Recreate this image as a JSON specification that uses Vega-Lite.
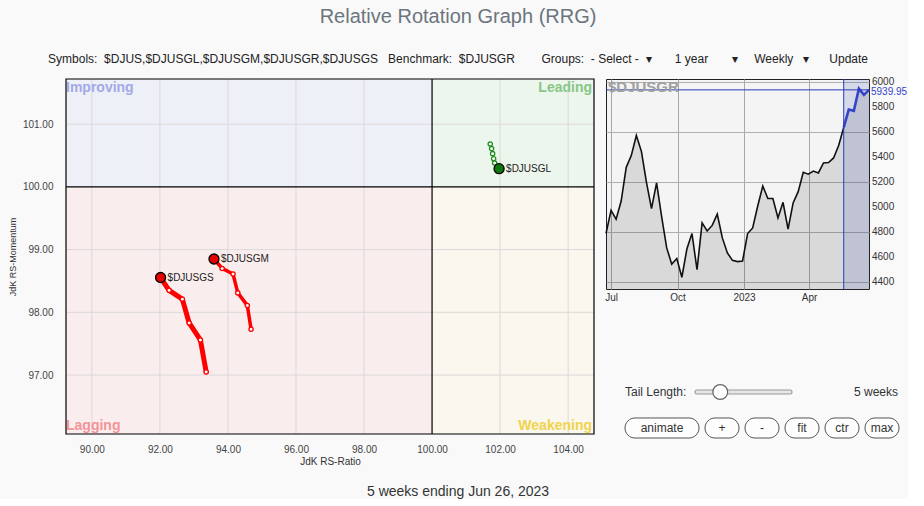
{
  "$schema": "https://vega.github.io/schema/vega-lite/v6.json",
  "background": "#f9f9fa",
  "padding": {"left": 8, "top": 6, "right": 0, "bottom": 0},
  "config": {
    "font": "Liberation Sans",
    "view": {"stroke": null},
    "axis": {"labelFont": "Liberation Sans", "titleFont": "Liberation Sans", "labelOverlap": false}
  },
  "title": {
    "text": "Relative Rotation Graph (RRG)",
    "subtitle": "Symbols: \u00a0$DJUS,$DJUSGL,$DJUSGM,$DJUSGR,$DJUSGS\u00a0\u00a0\u00a0Benchmark: \u00a0$DJUSGR\u00a0\u00a0\u00a0\u00a0\u00a0\u00a0\u00a0\u00a0Groups: \u00a0- Select - \u00a0\u25be\u00a0\u00a0\u00a0\u00a0\u00a0\u00a0\u00a01 year\u00a0\u00a0\u00a0\u00a0\u00a0\u00a0\u00a0\u25be\u00a0\u00a0\u00a0\u00a0\u00a0Weekly\u00a0\u00a0\u00a0\u25be\u00a0\u00a0\u00a0\u00a0\u00a0\u00a0Update",
    "anchor": "middle",
    "font": "Liberation Sans",
    "fontSize": 20,
    "fontWeight": "normal",
    "color": "#6c757d",
    "subtitleFont": "Liberation Sans",
    "subtitleFontSize": 12,
    "subtitleColor": "#222",
    "subtitlePadding": 27,
    "offset": 12
  },
  "datasets": {
    "quadrants": [
      {"quadrant": "Improving", "x1": 89.24, "x2": 100, "y1": 100, "y2": 101.72},
      {"quadrant": "Leading", "x1": 100, "x2": 104.76, "y1": 100, "y2": 101.72},
      {"quadrant": "Lagging", "x1": 89.24, "x2": 100, "y1": 96.06, "y2": 100},
      {"quadrant": "Weakening", "x1": 100, "x2": 104.76, "y1": 96.06, "y2": 100}
    ],
    "tails": [
      {"symbol": "$DJUSGS", "week": 0, "ratio": 93.36, "momentum": 97.05},
      {"symbol": "$DJUSGS", "week": 1, "ratio": 93.19, "momentum": 97.56},
      {"symbol": "$DJUSGS", "week": 2, "ratio": 92.86, "momentum": 97.83},
      {"symbol": "$DJUSGS", "week": 3, "ratio": 92.66, "momentum": 98.21},
      {"symbol": "$DJUSGS", "week": 4, "ratio": 92.27, "momentum": 98.35},
      {"symbol": "$DJUSGS", "week": 5, "ratio": 92.02, "momentum": 98.555},
      {"symbol": "$DJUSGM", "week": 0, "ratio": 94.68, "momentum": 97.73},
      {"symbol": "$DJUSGM", "week": 1, "ratio": 94.57, "momentum": 98.11},
      {"symbol": "$DJUSGM", "week": 2, "ratio": 94.29, "momentum": 98.31},
      {"symbol": "$DJUSGM", "week": 3, "ratio": 94.15, "momentum": 98.61},
      {"symbol": "$DJUSGM", "week": 4, "ratio": 93.83, "momentum": 98.70},
      {"symbol": "$DJUSGM", "week": 5, "ratio": 93.59, "momentum": 98.85},
      {"symbol": "$DJUSGL", "week": 0, "ratio": 101.71, "momentum": 100.685},
      {"symbol": "$DJUSGL", "week": 1, "ratio": 101.75, "momentum": 100.61},
      {"symbol": "$DJUSGL", "week": 2, "ratio": 101.78, "momentum": 100.53},
      {"symbol": "$DJUSGL", "week": 3, "ratio": 101.81, "momentum": 100.45},
      {"symbol": "$DJUSGL", "week": 4, "ratio": 101.84, "momentum": 100.38},
      {"symbol": "$DJUSGL", "week": 5, "ratio": 101.97, "momentum": 100.29}
    ],
    "price": [
      {"date": "2022-06-24", "close": 4790},
      {"date": "2022-07-01", "close": 4975},
      {"date": "2022-07-08", "close": 4905},
      {"date": "2022-07-15", "close": 5050},
      {"date": "2022-07-22", "close": 5320},
      {"date": "2022-07-29", "close": 5414},
      {"date": "2022-08-05", "close": 5575},
      {"date": "2022-08-12", "close": 5448},
      {"date": "2022-08-19", "close": 5200},
      {"date": "2022-08-26", "close": 4990},
      {"date": "2022-09-02", "close": 5195},
      {"date": "2022-09-09", "close": 4925},
      {"date": "2022-09-16", "close": 4675},
      {"date": "2022-09-23", "close": 4545},
      {"date": "2022-09-30", "close": 4590},
      {"date": "2022-10-07", "close": 4440},
      {"date": "2022-10-14", "close": 4668},
      {"date": "2022-10-21", "close": 4790},
      {"date": "2022-10-28", "close": 4500},
      {"date": "2022-11-04", "close": 4875},
      {"date": "2022-11-11", "close": 4810},
      {"date": "2022-11-18", "close": 4855},
      {"date": "2022-11-25", "close": 4945},
      {"date": "2022-12-02", "close": 4755},
      {"date": "2022-12-09", "close": 4635},
      {"date": "2022-12-16", "close": 4575},
      {"date": "2022-12-23", "close": 4565},
      {"date": "2022-12-30", "close": 4570},
      {"date": "2023-01-06", "close": 4790},
      {"date": "2023-01-13", "close": 4835},
      {"date": "2023-01-20", "close": 5010},
      {"date": "2023-01-27", "close": 5170},
      {"date": "2023-02-03", "close": 5070},
      {"date": "2023-02-10", "close": 5070},
      {"date": "2023-02-17", "close": 4915},
      {"date": "2023-02-24", "close": 5040},
      {"date": "2023-03-03", "close": 4825},
      {"date": "2023-03-10", "close": 5035},
      {"date": "2023-03-17", "close": 5125},
      {"date": "2023-03-24", "close": 5280},
      {"date": "2023-03-31", "close": 5265},
      {"date": "2023-04-07", "close": 5290},
      {"date": "2023-04-14", "close": 5275},
      {"date": "2023-04-21", "close": 5355},
      {"date": "2023-04-28", "close": 5358},
      {"date": "2023-05-05", "close": 5395},
      {"date": "2023-05-12", "close": 5495},
      {"date": "2023-05-19", "close": 5640},
      {"date": "2023-05-26", "close": 5782},
      {"date": "2023-06-02", "close": 5772},
      {"date": "2023-06-09", "close": 5950},
      {"date": "2023-06-16", "close": 5900},
      {"date": "2023-06-23", "close": 5939.95}
    ],
    "priceTicks": [
      {"v": 4400}, {"v": 4600}, {"v": 4800}, {"v": 5000}, {"v": 5200}, {"v": 5400}, {"v": 5600}, {"v": 5800}, {"v": 6000}
    ],
    "buttons": [
      {"label": "animate", "last": "animate "},
      {"label": "+", "last": "+"},
      {"label": "-", "last": "-"},
      {"label": "fit", "last": "fit"},
      {"label": "ctr", "last": "ctr"},
      {"label": "max", "last": "max"}
    ]
  },
  "vconcat": [
    {
      "spacing": 7,
      "title": {"text": "5 weeks ending Jun 26, 2023", "orient": "bottom", "anchor": "middle", "fontSize": 14, "fontWeight": "normal", "color": "#333", "offset": 19, "font": "Liberation Sans"},
      "hconcat": [
        {
          "width": 528,
          "height": 355,
          "layer": [
            {
              "data": {"name": "quadrants"},
              "mark": {"type": "rect"},
              "encoding": {
                "x": {"field": "x1", "type": "quantitative",
                  "scale": {"domain": [89.24, 104.76], "nice": false, "zero": false},
                  "axis": {"values": [90, 92, 94, 96, 98, 100, 102, 104], "format": ".2f", "title": "JdK RS-Ratio", "grid": false, "ticks": false, "domain": false, "labelFlush": false, "labelPadding": 10, "labelFontSize": 10, "labelColor": "#444", "titleFontSize": 10, "titleFontWeight": "normal", "titleColor": "#333", "titlePadding": 2}},
                "x2": {"field": "x2"},
                "y": {"field": "y1", "type": "quantitative",
                  "scale": {"domain": [96.06, 101.72], "nice": false, "zero": false},
                  "axis": {"values": [97, 98, 99, 100, 101], "format": ".2f", "title": "JdK RS-Momentum", "grid": false, "ticks": false, "domain": false, "labelFlush": false, "labelPadding": 13, "labelFontSize": 10, "labelColor": "#444", "titleFontSize": 9, "titleFontWeight": "normal", "titleColor": "#333", "titlePadding": 5}},
                "y2": {"field": "y2"},
                "color": {"field": "quadrant", "type": "nominal",
                  "scale": {"domain": ["Improving", "Leading", "Lagging", "Weakening"], "range": ["#eef0f8", "#edf6ec", "#faeded", "#f9f7ee"]},
                  "legend": null}
              }
            },
            {
              "data": {"values": [{"v": 90}, {"v": 92}, {"v": 94}, {"v": 96}, {"v": 98}, {"v": 102}, {"v": 104}]},
              "mark": {"type": "rule", "color": "#dcd8d8", "strokeWidth": 1},
              "encoding": {"x": {"field": "v", "type": "quantitative"}}
            },
            {
              "data": {"values": [{"v": 97}, {"v": 98}, {"v": 99}, {"v": 101}]},
              "mark": {"type": "rule", "color": "#dcd8d8", "strokeWidth": 1},
              "encoding": {"y": {"field": "v", "type": "quantitative"}}
            },
            {
              "data": {"values": [{}]},
              "mark": {"type": "rule", "color": "#000", "strokeWidth": 1.2},
              "encoding": {"x": {"datum": 100, "type": "quantitative"}}
            },
            {
              "data": {"values": [{}]},
              "mark": {"type": "rule", "color": "#000", "strokeWidth": 1.2},
              "encoding": {"y": {"datum": 100, "type": "quantitative"}}
            },
            {
              "data": {"values": [{}]},
              "mark": {"type": "text", "text": "Improving", "align": "left", "baseline": "top", "dx": 0, "dy": 2, "fontSize": 14, "fontWeight": "bold", "color": "#a2a9e6"},
              "encoding": {"x": {"datum": 89.24, "type": "quantitative"}, "y": {"datum": 101.72, "type": "quantitative"}}
            },
            {
              "data": {"values": [{}]},
              "mark": {"type": "text", "text": "Leading", "align": "right", "baseline": "top", "dx": -2, "dy": 2, "fontSize": 14, "fontWeight": "bold", "color": "#86c786"},
              "encoding": {"x": {"datum": 104.76, "type": "quantitative"}, "y": {"datum": 101.72, "type": "quantitative"}}
            },
            {
              "data": {"values": [{}]},
              "mark": {"type": "text", "text": "Lagging", "align": "left", "baseline": "bottom", "dx": 0, "dy": -1, "fontSize": 14, "fontWeight": "bold", "color": "#f29498"},
              "encoding": {"x": {"datum": 89.24, "type": "quantitative"}, "y": {"datum": 96.06, "type": "quantitative"}}
            },
            {
              "data": {"values": [{}]},
              "mark": {"type": "text", "text": "Weakening", "align": "right", "baseline": "bottom", "dx": -2, "dy": -1, "fontSize": 14, "fontWeight": "bold", "color": "#f2d34c"},
              "encoding": {"x": {"datum": 104.76, "type": "quantitative"}, "y": {"datum": 96.06, "type": "quantitative"}}
            },
            {
              "data": {"name": "tails"},
              "mark": {"type": "line", "strokeCap": "round", "strokeJoin": "round"},
              "encoding": {
                "x": {"field": "ratio", "type": "quantitative"},
                "y": {"field": "momentum", "type": "quantitative"},
                "order": {"field": "week", "type": "quantitative"},
                "stroke": {"field": "symbol", "type": "nominal", "scale": {"domain": ["$DJUSGL", "$DJUSGM", "$DJUSGS"], "range": ["#1e8f1e", "#ff0000", "#ff0000"]}, "legend": null},
                "strokeWidth": {"field": "symbol", "type": "nominal", "scale": {"domain": ["$DJUSGL", "$DJUSGM", "$DJUSGS"], "range": [2, 5, 5]}, "legend": null}
              }
            },
            {
              "data": {"name": "tails"},
              "transform": [{"filter": "datum.week < 5"}],
              "mark": {"type": "point", "shape": "circle", "fill": "white", "fillOpacity": 1, "strokeWidth": 1.3, "size": 18, "opacity": 1},
              "encoding": {
                "x": {"field": "ratio", "type": "quantitative"},
                "y": {"field": "momentum", "type": "quantitative"},
                "stroke": {"field": "symbol", "type": "nominal", "legend": null}
              }
            },
            {
              "data": {"name": "tails"},
              "transform": [{"filter": "datum.week == 5"}],
              "mark": {"type": "point", "shape": "circle", "filled": true, "stroke": "#000", "strokeWidth": 1.3, "size": 100, "opacity": 1},
              "encoding": {
                "x": {"field": "ratio", "type": "quantitative"},
                "y": {"field": "momentum", "type": "quantitative"},
                "fill": {"field": "symbol", "type": "nominal", "scale": {"domain": ["$DJUSGL", "$DJUSGM", "$DJUSGS"], "range": ["#0e7a0e", "#e60000", "#e60000"]}, "legend": null}
              }
            },
            {
              "data": {"name": "tails"},
              "transform": [{"filter": "datum.week == 5"}],
              "mark": {"type": "text", "align": "left", "baseline": "middle", "dx": 7, "fontSize": 10, "color": "#222"},
              "encoding": {
                "x": {"field": "ratio", "type": "quantitative"},
                "y": {"field": "momentum", "type": "quantitative"},
                "text": {"field": "symbol", "type": "nominal"}
              }
            },
            {
              "data": {"values": [{}]},
              "mark": {"type": "rect", "filled": false, "stroke": "#000", "strokeWidth": 1.2},
              "encoding": {
                "x": {"datum": 89.24, "type": "quantitative"},
                "x2": {"datum": 104.76},
                "y": {"datum": 96.06, "type": "quantitative"},
                "y2": {"datum": 101.72}
              }
            }
          ]
        },
        {
          "spacing": 71,
          "vconcat": [
            {
              "width": 263,
              "height": 210,
              "view": {"fill": "#f4f4f4", "stroke": "#222", "strokeWidth": 1},
              "data": {"name": "price"},
              "layer": [
                {
                  "mark": {"type": "area", "fill": "#000", "fillOpacity": 0.11, "clip": true},
                  "encoding": {
                    "x": {"field": "date", "type": "temporal",
                      "scale": {"type": "utc", "domain": [{"year": 2022, "month": 6, "date": 24, "utc": true}, {"year": 2023, "month": 6, "date": 23, "utc": true}]},
                      "axis": {"values": [{"year": 2022, "month": 7, "date": 1, "utc": true}, {"year": 2022, "month": 10, "date": 1, "utc": true}, {"year": 2023, "month": 1, "date": 1, "utc": true}, {"year": 2023, "month": 4, "date": 1, "utc": true}],
                        "labelExpr": "utcFormat(datum.value, '%m') == '01' ? utcFormat(datum.value, '%Y') : utcFormat(datum.value, '%b')",
                        "title": null, "grid": true, "gridColor": "#a8a8a8", "ticks": false, "domain": false, "labelFlush": false, "labelOverlap": false, "labelPadding": 3, "labelFontSize": 10, "labelColor": "#333"}},
                    "y": {"field": "close", "type": "quantitative",
                      "scale": {"domain": [4346, 6027], "nice": false, "zero": false},
                      "axis": {"orient": "right", "values": [4400, 4600, 4800, 5000, 5200, 5400, 5600, 5800, 6000], "labels": false, "title": null, "grid": true, "gridColor": "#b0b0b0", "ticks": false, "domain": false}},
                    "y2": {"datum": 4346}
                  }
                },
                {
                  "transform": [
                    {"filter": {"field": "date", "gte": {"year": 2023, "month": 5, "date": 19, "utc": true}}},
                    {"aggregate": [{"op": "min", "field": "date", "as": "d0"}, {"op": "max", "field": "date", "as": "d1"}]}
                  ],
                  "mark": {"type": "rect", "fill": "#3f51b5", "opacity": 0.16},
                  "encoding": {
                    "x": {"field": "d0", "type": "temporal"},
                    "x2": {"field": "d1"}
                  }
                },
                {
                  "transform": [{"filter": {"field": "date", "lte": {"year": 2023, "month": 5, "date": 19, "utc": true}}}],
                  "mark": {"type": "line", "color": "#111", "strokeWidth": 1.6},
                  "encoding": {
                    "x": {"field": "date", "type": "temporal"},
                    "y": {"field": "close", "type": "quantitative"}
                  }
                },
                {
                  "transform": [{"filter": {"field": "date", "gte": {"year": 2023, "month": 5, "date": 19, "utc": true}}}],
                  "mark": {"type": "line", "color": "#3446c8", "strokeWidth": 2.6},
                  "encoding": {
                    "x": {"field": "date", "type": "temporal"},
                    "y": {"field": "close", "type": "quantitative"}
                  }
                },
                {
                  "data": {"values": [{}]},
                  "mark": {"type": "rule", "color": "#2b3bbb", "strokeWidth": 1},
                  "encoding": {"x": {"datum": {"year": 2023, "month": 5, "date": 19, "utc": true}, "type": "temporal"}}
                },
                {
                  "data": {"values": [{}]},
                  "mark": {"type": "rule", "color": "#2b3bbb", "strokeWidth": 1},
                  "encoding": {"y": {"datum": 5939.95, "type": "quantitative"}}
                },
                {
                  "data": {"name": "priceTicks"},
                  "mark": {"type": "text", "align": "left", "baseline": "middle", "dx": 3, "fontSize": 10, "color": "#333"},
                  "encoding": {
                    "x": {"datum": {"year": 2023, "month": 6, "date": 23, "utc": true}, "type": "temporal"},
                    "y": {"field": "v", "type": "quantitative"},
                    "text": {"field": "v", "type": "quantitative", "format": "d"}
                  }
                },
                {
                  "data": {"values": [{}]},
                  "mark": {"type": "text", "text": "5939.95", "align": "left", "baseline": "middle", "dx": 2, "dy": 2, "fontSize": 10, "color": "#3446c8"},
                  "encoding": {"x": {"datum": {"year": 2023, "month": 6, "date": 23, "utc": true}, "type": "temporal"}, "y": {"datum": 5939.95, "type": "quantitative"}}
                },
                {
                  "data": {"values": [{}]},
                  "mark": {"type": "text", "text": "$DJUSGR", "align": "left", "baseline": "top", "dx": 2, "dy": 1, "fontSize": 15, "fontWeight": "bold", "color": "#a0a0a0"},
                  "encoding": {"x": {"datum": {"year": 2022, "month": 6, "date": 24, "utc": true}, "type": "temporal"}, "y": {"datum": 6027, "type": "quantitative"}}
                }
              ]
            },
            {
              "width": 296,
              "height": 72,
              "data": {"name": "buttons"},
              "resolve": {"scale": {"x": "independent"}, "axis": {"x": "independent"}},
              "layer": [
                {
                  "layer": [
                    {
                      "mark": {"type": "rect", "cornerRadius": 10, "fill": "#fdfdfd", "stroke": "#555", "strokeWidth": 1},
                      "encoding": {
                        "x": {"field": "label", "type": "nominal", "bandPosition": 0, "scale": {"domain": ["animate", "animate ", "+", "-", "fit", "ctr", "max"], "paddingInner": 0.15, "paddingOuter": 0.275, "align": 0.864}, "axis": null},
                        "x2": {"field": "last", "bandPosition": 1},
                        "y": {"datum": "buttons", "type": "nominal", "scale": {"domain": ["tail", "buttons"], "paddingInner": 0.444, "paddingOuter": 0.222}, "axis": null}
                      }
                    },
                    {
                      "transform": [{"filter": "datum.label != 'animate'"}],
                      "mark": {"type": "text", "fontSize": 12, "color": "#333", "baseline": "middle"},
                      "encoding": {
                        "x": {"field": "label", "type": "nominal", "axis": null},
                        "y": {"datum": "buttons", "type": "nominal", "axis": null},
                        "text": {"field": "label", "type": "nominal"}
                      }
                    },
                    {
                      "transform": [{"filter": "datum.label == 'animate'"}],
                      "mark": {"type": "text", "fontSize": 12, "color": "#333", "baseline": "middle"},
                      "encoding": {
                        "x": {"field": "label", "type": "nominal", "bandPosition": 1.088, "axis": null},
                        "y": {"datum": "buttons", "type": "nominal", "axis": null},
                        "text": {"field": "label", "type": "nominal"}
                      }
                    }
                  ]
                },
                {
                  "data": {"values": [{}]},
                  "layer": [
                    {
                      "mark": {"type": "rule", "color": "#999", "strokeWidth": 5, "strokeCap": "round"},
                      "encoding": {
                        "x": {"datum": 1, "type": "quantitative", "scale": {"domain": [-14.66, 36.27], "nice": false, "zero": false}, "axis": null},
                        "x2": {"datum": 17},
                        "y": {"datum": "tail", "type": "nominal", "axis": null}
                      }
                    },
                    {
                      "mark": {"type": "rule", "color": "#e6e6e6", "strokeWidth": 3, "strokeCap": "round"},
                      "encoding": {
                        "x": {"datum": 1, "type": "quantitative", "axis": null},
                        "x2": {"datum": 17},
                        "y": {"datum": "tail", "type": "nominal", "axis": null}
                      }
                    },
                    {
                      "mark": {"type": "point", "shape": "circle", "filled": true, "fill": "#fff", "stroke": "#666", "strokeWidth": 1.2, "size": 220, "opacity": 1},
                      "encoding": {
                        "x": {"datum": 5, "type": "quantitative", "axis": null},
                        "y": {"datum": "tail", "type": "nominal", "axis": null}
                      }
                    },
                    {
                      "mark": {"type": "text", "text": "Tail Length:", "align": "left", "baseline": "middle", "fontSize": 12, "color": "#333"},
                      "encoding": {
                        "x": {"datum": -11.39, "type": "quantitative", "axis": null},
                        "y": {"datum": "tail", "type": "nominal", "axis": null}
                      }
                    },
                    {
                      "mark": {"type": "text", "text": "5 weeks", "align": "right", "baseline": "middle", "fontSize": 12, "color": "#333"},
                      "encoding": {
                        "x": {"datum": 35.58, "type": "quantitative", "axis": null},
                        "y": {"datum": "tail", "type": "nominal", "axis": null}
                      }
                    }
                  ]
                }
              ]
            }
          ]
        }
      ]
    }
  ]
}
